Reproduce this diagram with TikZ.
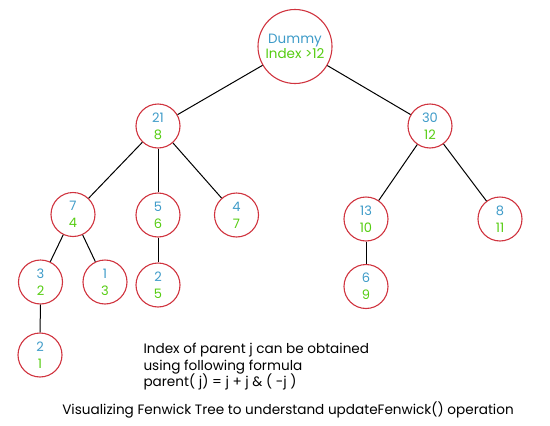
\documentclass[tikz,border=0pt]{standalone}
\usepackage{fontspec}
\setmainfont{Poppins}
\usepackage{xcolor}
\definecolor{ringred}{HTML}{D0343F}
\definecolor{valblue}{HTML}{3E9BC8}
\definecolor{idxgreen}{HTML}{55CC11}
\newcommand{\fwlabel}[2]{\textcolor{valblue}{#1}\\\textcolor{idxgreen}{#2}}

\begin{document}
\begin{tikzpicture}[x=1pt,y=-1pt,
    fwnode/.style={circle, draw=ringred, line width=1.1pt, minimum size=44pt, inner sep=0pt,
                   align=center, font=\fontsize{13}{17}\selectfont},
    fwedge/.style={line width=1pt}]

            \useasboundingbox (0,0) rectangle (550,426);

            % Dummy root
            \node[fwnode, minimum size=74pt, font=\fontsize{13.5}{15}\selectfont] (dummy) at (295, 46.5) {\fwlabel{Dummy}{Index >12}};

            % Second level
            \node[fwnode] (i8) at (158, 126) {\fwlabel{21}{8}};
            \node[fwnode] (i12) at (430, 126) {\fwlabel{30}{12}};

            % Third level
            \node[fwnode] (i4) at (73, 214.5) {\fwlabel{7}{4}};
            \node[fwnode] (i6) at (158, 215) {\fwlabel{5}{6}};
            \node[fwnode] (i7) at (236.5, 215) {\fwlabel{4}{7}};
            \node[fwnode] (i10) at (366, 219) {\fwlabel{13}{10}};
            \node[fwnode] (i11) at (500, 219) {\fwlabel{8}{11}};

            % Fourth level
            \node[fwnode] (i2) at (40.5, 282) {\fwlabel{3}{2}};
            \node[fwnode] (i3) at (105, 282) {\fwlabel{1}{3}};
            \node[fwnode] (i5) at (158, 285) {\fwlabel{2}{5}};
            \node[fwnode] (i9) at (366, 286.5) {\fwlabel{6}{9}};

            % Fifth level
            \node[fwnode] (i1) at (40, 355) {\fwlabel{2}{1}};

            % Parent links
            \draw[fwedge] (dummy) -- (i8);
            \draw[fwedge] (dummy) -- (i12);
            \draw[fwedge] (i8) -- (i4);
            \draw[fwedge] (i8) -- (i6);
            \draw[fwedge] (i8) -- (i7);
            \draw[fwedge] (i12) -- (i10);
            \draw[fwedge] (i12) -- (i11);
            \draw[fwedge] (i4) -- (i2);
            \draw[fwedge] (i4) -- (i3);
            \draw[fwedge] (i6) -- (i5);
            \draw[fwedge] (i10) -- (i9);
            \draw[fwedge] (i2) -- (i1);

            % Formula and caption
            \node[anchor=west, align=left, font=\fontsize{13.6}{16.5}\selectfont] (formula) at (140, 367)
                {Index of parent j can be obtained\\using following formula\\parent( j) = j + j \& ( -j )};
            \node[font=\fontsize{13.6}{14}\selectfont] (caption) at (288, 410)
                {Visualizing Fenwick Tree to understand updateFenwick() operation};

        \end{tikzpicture}
\end{document}
